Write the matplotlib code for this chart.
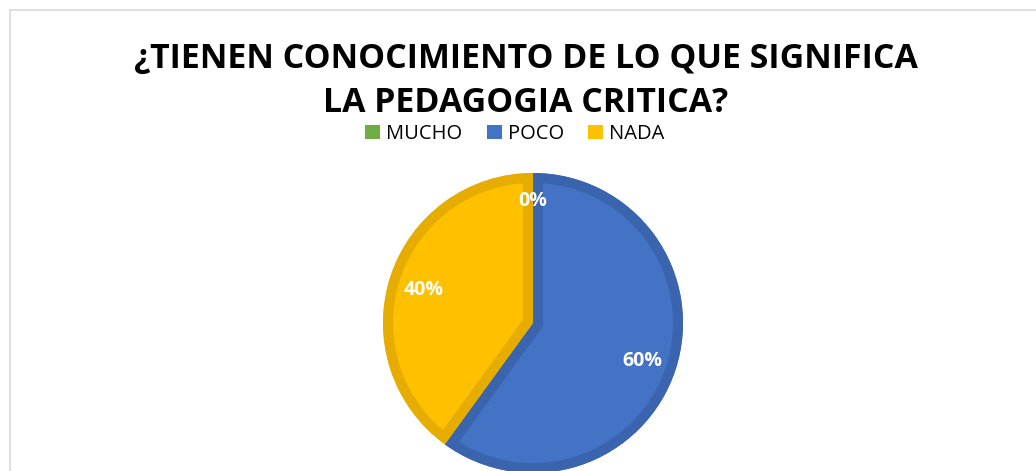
import matplotlib.pyplot as plt
from matplotlib.patches import Rectangle, PathPatch

# data
categories = ['MUCHO', 'POCO', 'NADA']
values = [0, 60, 40]
colors = ['#70AD47', '#4472C4', '#FFC000']
edge_colors = ['#5E9A3A', '#3A64AE', '#E6AC00']
title = '¿TIENEN CONOCIMIENTO DE LO QUE SIGNIFICA\nLA PEDAGOGIA CRITICA?'

W, H = 1036, 471
fig = plt.figure(figsize=(W / 100, H / 100), dpi=100)
fig.patch.set_facecolor('white')

# chart frame
fig.patches.append(Rectangle((9.5 / W, -0.1), 1.2, (H - 9.5) / H + 0.1,
                             transform=fig.transFigure, fill=False,
                             edgecolor='#D9D9D9', linewidth=1.2))

# pie axes: centre (533, 323) px, radius 150 px
cx, cy, r = 533, 323, 150
ax = fig.add_axes([(cx - r) / W, (H - cy - r) / H, 2 * r / W, 2 * r / H])

wedges, texts, autotexts = ax.pie(
    values, colors=colors, startangle=90, counterclock=False, radius=1,
    autopct='%1.0f%%', pctdistance=0.77,
    wedgeprops=dict(linewidth=0),
    textprops=dict(color='white', fontsize=14, fontweight='bold',
                   family='Open Sans'))
ax.set_xlim(-1, 1)
ax.set_ylim(-1, 1)
ax.set_aspect('equal')
ax.axis('off')

# inset border: stroke each wedge outline, clipped to the wedge itself
for w, ec, v in zip(wedges, edge_colors, values):
    if v == 0:
        continue
    path = w.get_path()
    border = ax.add_patch(PathPatch(
        path, facecolor='none', edgecolor=ec, linewidth=14.4,
        joinstyle='miter', zorder=w.get_zorder() + 0.1))
    border.set_clip_path(path, ax.transData)
autotexts[0].set_y(0.83)
for t in autotexts:
    t.set_va('center_baseline')

fig.text(526 / W, 1 - 81 / H, title, ha='center', va='center',
         fontsize=24.4, fontweight='bold', family='Open Sans',
         color='black', linespacing=1.42)

handles = [Rectangle((0, 0), 1, 1, facecolor=c) for c in colors]
fig.legend(handles, categories, loc='center', bbox_to_anchor=(515 / W, 1 - 134 / H),
           ncol=3, frameon=False, handlelength=0.75, handleheight=0.75,
           handletextpad=0.3, columnspacing=1.2,
           prop=dict(family='Open Sans', size=14.5))

fig.savefig('out.png', dpi=100)
